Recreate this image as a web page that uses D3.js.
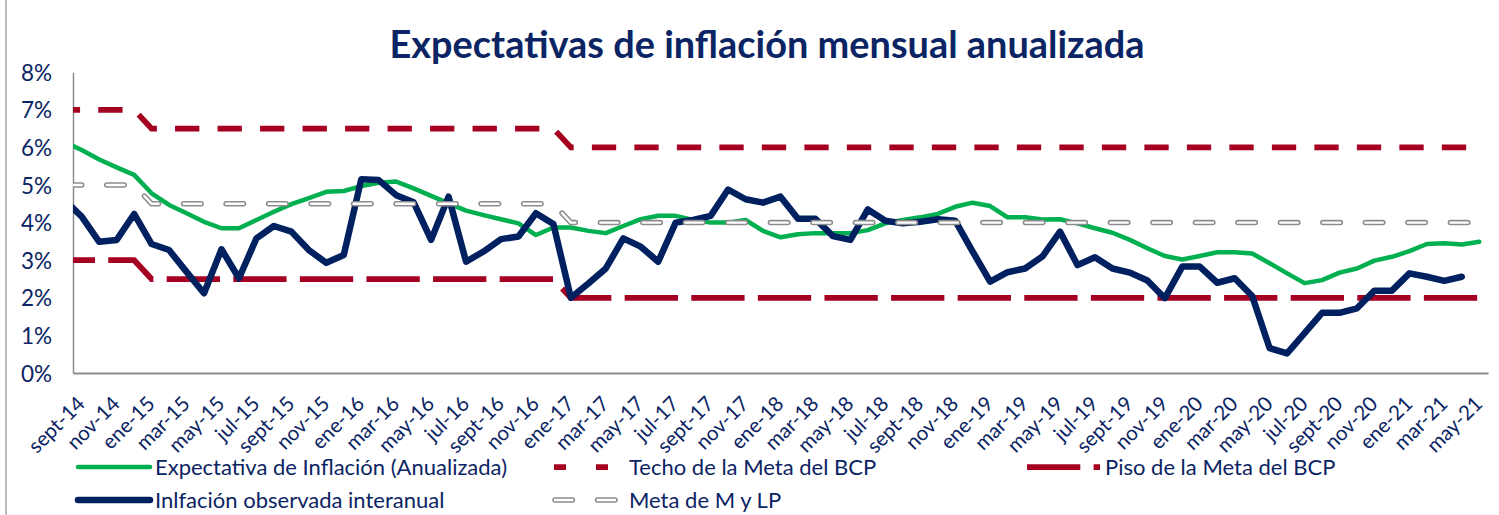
<!DOCTYPE html>
<html>
<head>
<meta charset="utf-8">
<script src="https://cdn.jsdelivr.net/npm/d3@7"></script>
<style>
  body { margin: 0; background: #fff; }
  svg text { font-family: Lato, "Open Sans", sans-serif; fill: #0b2463; }
</style>
</head>
<body>
<div id="chart"></div>
<script>
// monthly categories (ago-14 is only partly visible at the left edge)
var months = [
  "ago-14","sept-14","oct-14","nov-14","dic-14",
  "ene-15","feb-15","mar-15","abr-15","may-15","jun-15","jul-15","ago-15","sept-15","oct-15","nov-15","dic-15",
  "ene-16","feb-16","mar-16","abr-16","may-16","jun-16","jul-16","ago-16","sept-16","oct-16","nov-16","dic-16",
  "ene-17","feb-17","mar-17","abr-17","may-17","jun-17","jul-17","ago-17","sept-17","oct-17","nov-17","dic-17",
  "ene-18","feb-18","mar-18","abr-18","may-18","jun-18","jul-18","ago-18","sept-18","oct-18","nov-18","dic-18",
  "ene-19","feb-19","mar-19","abr-19","may-19","jun-19","jul-19","ago-19","sept-19","oct-19","nov-19","dic-19",
  "ene-20","feb-20","mar-20","abr-20","may-20","jun-20","jul-20","ago-20","sept-20","oct-20","nov-20","dic-20",
  "ene-21","feb-21","mar-21","abr-21","may-21"
];

// axis labels shown every two months, starting at sept-14
var tickLabels = months.filter(function(d, i) { return i % 2 === 1; });
var yTicks = [0, 1, 2, 3, 4, 5, 6, 7, 8];

var expectativa = [
  6.15, 5.93, 5.68, 5.47, 5.27,
  4.78, 4.47, 4.25, 4.02, 3.85, 3.85, 4.07, 4.29, 4.49, 4.65, 4.82, 4.84,
  4.97, 5.06, 5.09, 4.91, 4.71, 4.51, 4.32, 4.20, 4.09, 3.98, 3.67, 3.87,
  3.87, 3.78, 3.72, 3.91, 4.09, 4.18, 4.18, 4.07, 4.00, 4.00, 4.07, 3.78,
  3.61, 3.69, 3.72, 3.72, 3.72, 3.80, 3.98, 4.07, 4.14, 4.23, 4.42, 4.53,
  4.44, 4.14, 4.14, 4.08, 4.09, 3.98, 3.85, 3.73, 3.54, 3.32, 3.11, 3.02,
  3.11, 3.21, 3.21, 3.18, 2.92, 2.65, 2.39, 2.47, 2.67, 2.78, 2.99, 3.09,
  3.24, 3.43, 3.45, 3.42, 3.49
];

var techo = [
  7, 7, 7, 7, 7,
  6.5, 6.5, 6.5, 6.5, 6.5, 6.5, 6.5, 6.5, 6.5, 6.5, 6.5, 6.5,
  6.5, 6.5, 6.5, 6.5, 6.5, 6.5, 6.5, 6.5, 6.5, 6.5, 6.5, 6.5,
  6, 6, 6, 6, 6, 6, 6, 6, 6, 6, 6, 6,
  6, 6, 6, 6, 6, 6, 6, 6, 6, 6, 6, 6,
  6, 6, 6, 6, 6, 6, 6, 6, 6, 6, 6, 6,
  6, 6, 6, 6, 6, 6, 6, 6, 6, 6, 6, 6,
  6, 6, 6, 6, 6
];

var piso = [
  3, 3, 3, 3, 3,
  2.5, 2.5, 2.5, 2.5, 2.5, 2.5, 2.5, 2.5, 2.5, 2.5, 2.5, 2.5,
  2.5, 2.5, 2.5, 2.5, 2.5, 2.5, 2.5, 2.5, 2.5, 2.5, 2.5, 2.5,
  2, 2, 2, 2, 2, 2, 2, 2, 2, 2, 2, 2,
  2, 2, 2, 2, 2, 2, 2, 2, 2, 2, 2, 2,
  2, 2, 2, 2, 2, 2, 2, 2, 2, 2, 2, 2,
  2, 2, 2, 2, 2, 2, 2, 2, 2, 2, 2, 2,
  2, 2, 2, 2, 2
];

var inflacion = [
  4.60, 4.16, 3.49, 3.54, 4.23,
  3.43, 3.27, 2.69, 2.12, 3.29, 2.52, 3.58, 3.91, 3.76, 3.27, 2.93, 3.14,
  5.15, 5.13, 4.73, 4.54, 3.54, 4.69, 2.96, 3.23, 3.56, 3.63, 4.25, 3.96,
  2.00, 2.38, 2.78, 3.58, 3.36, 2.96, 4.00, 4.07, 4.18, 4.88, 4.62, 4.53,
  4.69, 4.10, 4.10, 3.64, 3.54, 4.35, 4.05, 3.98, 4.02, 4.09, 4.05, 3.23,
  2.43, 2.68, 2.78, 3.10, 3.76, 2.87, 3.08, 2.78, 2.67, 2.46, 1.99, 2.83,
  2.83, 2.40, 2.52, 2.05, 0.66, 0.52, 1.06, 1.60, 1.60, 1.72, 2.19, 2.19,
  2.65, 2.56, 2.45, 2.56, null
];

var meta = [
  5, 5, 5, 5, 5,
  4.5, 4.5, 4.5, 4.5, 4.5, 4.5, 4.5, 4.5, 4.5, 4.5, 4.5, 4.5,
  4.5, 4.5, 4.5, 4.5, 4.5, 4.5, 4.5, 4.5, 4.5, 4.5, 4.5, 4.5,
  4, 4, 4, 4, 4, 4, 4, 4, 4, 4, 4, 4,
  4, 4, 4, 4, 4, 4, 4, 4, 4, 4, 4, 4,
  4, 4, 4, 4, 4, 4, 4, 4, 4, 4, 4, 4,
  4, 4, 4, 4, 4, 4, 4, 4, 4, 4, 4, 4,
  4, 4, 4, 4, 4
];

var seriesNames = [
  "Expectativa de Inflación (Anualizada)",
  "Techo de la Meta del BCP",
  "Piso de la Meta del BCP",
  "Inlfación observada interanual",
  "Meta de M y LP"
];

var svgWidth = 1499;
var svgHeight = 515;
var plot = { left: 73, right: 1488, top: 72.2, bottom: 373 };

var green = "#00b050", red = "#a50021", navy = "#002060", gray = "#8c8c8c";

var svg = d3.select("#chart")
  .append("svg")
  .attr("width", svgWidth)
  .attr("height", svgHeight);

// outer chart frame (only the left edge falls inside the picture)
svg.append("rect")
  .attr("x", 6).attr("y", -3)
  .attr("width", 1600).attr("height", 600)
  .attr("fill", "none")
  .attr("stroke", "#a6a6a6")
  .attr("stroke-width", 1.5);

// title
var title = svg.append("text")
  .attr("x", 767)
  .attr("y", 58)
  .attr("text-anchor", "middle")
  .attr("font-size", "38px")
  .attr("font-weight", "bold")
  .text("Expectativas de inflación mensual anualizada");
if (title.node().getComputedTextLength() > 755) {
  title.attr("textLength", 755).attr("lengthAdjust", "spacingAndGlyphs");
}

// scales: categories sit between tick marks
var x = d3.scaleLinear()
  .domain([0.5, months.length - 0.5])
  .range([plot.left, plot.right]);

var y = d3.scaleLinear()
  .domain([0, 8])
  .range([plot.bottom, plot.top]);

// axes
var leftAxis = d3.axisLeft(y)
  .tickValues(yTicks)
  .tickFormat(function(d) { return d + "%"; })
  .tickSize(0)
  .tickSizeOuter(0)
  .tickPadding(21);

var yAxis = svg.append("g")
  .attr("transform", `translate(${plot.left}, 0)`)
  .call(leftAxis);
yAxis.select(".domain").attr("stroke", gray).attr("stroke-width", 1.5);
yAxis.selectAll("text")
  .attr("font-size", "22.5px")
  .attr("font-family", null)
  .attr("dy", "0.36em");

var tickIdx = d3.range(1, months.length, 2);
var bottomAxis = d3.axisBottom(x)
  .tickValues(tickIdx)
  .tickFormat(function(d) { return months[d]; })
  .tickSize(0)
  .tickSizeOuter(0);

var xAxis = svg.append("g")
  .attr("transform", `translate(0, ${plot.bottom})`)
  .call(bottomAxis);
xAxis.select(".domain").attr("stroke", gray).attr("stroke-width", 2);
xAxis.selectAll("text")
  .attr("x", 0)
  .attr("y", 0)
  .attr("dy", 0)
  .attr("font-size", "20.5px")
  .attr("font-family", null)
  .attr("transform", "translate(4, 32) rotate(-45)")
  .style("text-anchor", "end");

// clip lines at the plot edges
svg.append("clipPath")
  .attr("id", "plotClip")
  .append("rect")
  .attr("x", plot.left).attr("y", 0)
  .attr("width", 1430).attr("height", plot.bottom + 10);

var line = d3.line()
  .defined(function(d) { return d != null; })
  .x(function(d, i) { return x(i); })
  .y(function(d) { return y(d); });

var chartGroup = svg.append("g").attr("clip-path", "url(#plotClip)");

chartGroup.append("path")
  .attr("d", line(expectativa))
  .attr("fill", "none")
  .attr("stroke", green)
  .attr("stroke-width", 4.5)
  .attr("stroke-linejoin", "round")
  .attr("stroke-linecap", "round");

chartGroup.append("path")
  .attr("d", line(techo))
  .attr("fill", "none")
  .attr("stroke", red)
  .attr("stroke-width", 5.75)
  .attr("stroke-dasharray", "24.3,18.2")
  .attr("stroke-dashoffset", 8.5);

chartGroup.append("path")
  .attr("d", line(piso))
  .attr("fill", "none")
  .attr("stroke", red)
  .attr("stroke-width", 5.75)
  .attr("stroke-dasharray", "53.3,13.3")
  .attr("stroke-dashoffset", 22.6);

chartGroup.append("path")
  .attr("d", line(inflacion))
  .attr("fill", "none")
  .attr("stroke", navy)
  .attr("stroke-width", 6.5)
  .attr("stroke-linejoin", "round")
  .attr("stroke-linecap", "round");

// gray outlined dashes: gray stroke with a white core
chartGroup.append("path")
  .attr("d", line(meta))
  .attr("fill", "none")
  .attr("stroke", gray)
  .attr("stroke-width", 5.5)
  .attr("stroke-linecap", "round")
  .attr("stroke-dasharray", "17.5,25");
chartGroup.append("path")
  .attr("d", line(meta))
  .attr("fill", "none")
  .attr("stroke", "#fff")
  .attr("stroke-width", 2.4)
  .attr("stroke-linecap", "round")
  .attr("stroke-dasharray", "17.5,25");

// legend
var legendItems = [
  { name: seriesNames[0], x: 78, y: 467, len: 72, color: green, width: 4.5, dash: null, cap: "round" },
  { name: seriesNames[1], x: 554, y: 467, len: 70, color: red, width: 5.75, dash: "12,30", cap: "butt" },
  { name: seriesNames[2], x: 1027, y: 467, len: 73, color: red, width: 5.75, dash: "53.3,13.3", cap: "butt" },
  { name: seriesNames[3], x: 78, y: 500, len: 72, color: navy, width: 6.5, dash: null, cap: "round" },
  { name: seriesNames[4], x: 555, y: 500, len: 62, color: gray, width: 5.5, dash: "17.5,25", cap: "round", hollow: true }
];

var legend = svg.append("g");
legendItems.forEach(function(d) {
  legend.append("line")
    .attr("x1", d.x).attr("x2", d.x + d.len)
    .attr("y1", d.y).attr("y2", d.y)
    .attr("stroke", d.color)
    .attr("stroke-width", d.width)
    .attr("stroke-linecap", d.cap)
    .attr("stroke-dasharray", d.dash);
  if (d.hollow) {
    legend.append("line")
      .attr("x1", d.x).attr("x2", d.x + d.len)
      .attr("y1", d.y).attr("y2", d.y)
      .attr("stroke", "#fff")
      .attr("stroke-width", 2.4)
      .attr("stroke-linecap", "round")
      .attr("stroke-dasharray", d.dash);
  }
  legend.append("text")
    .attr("x", d.x + (d.hollow ? 74 : d.len + 5))
    .attr("y", d.y)
    .attr("dy", "0.35em")
    .attr("font-size", "22px")
    .text(d.name);
});
</script>
</body>
</html>
